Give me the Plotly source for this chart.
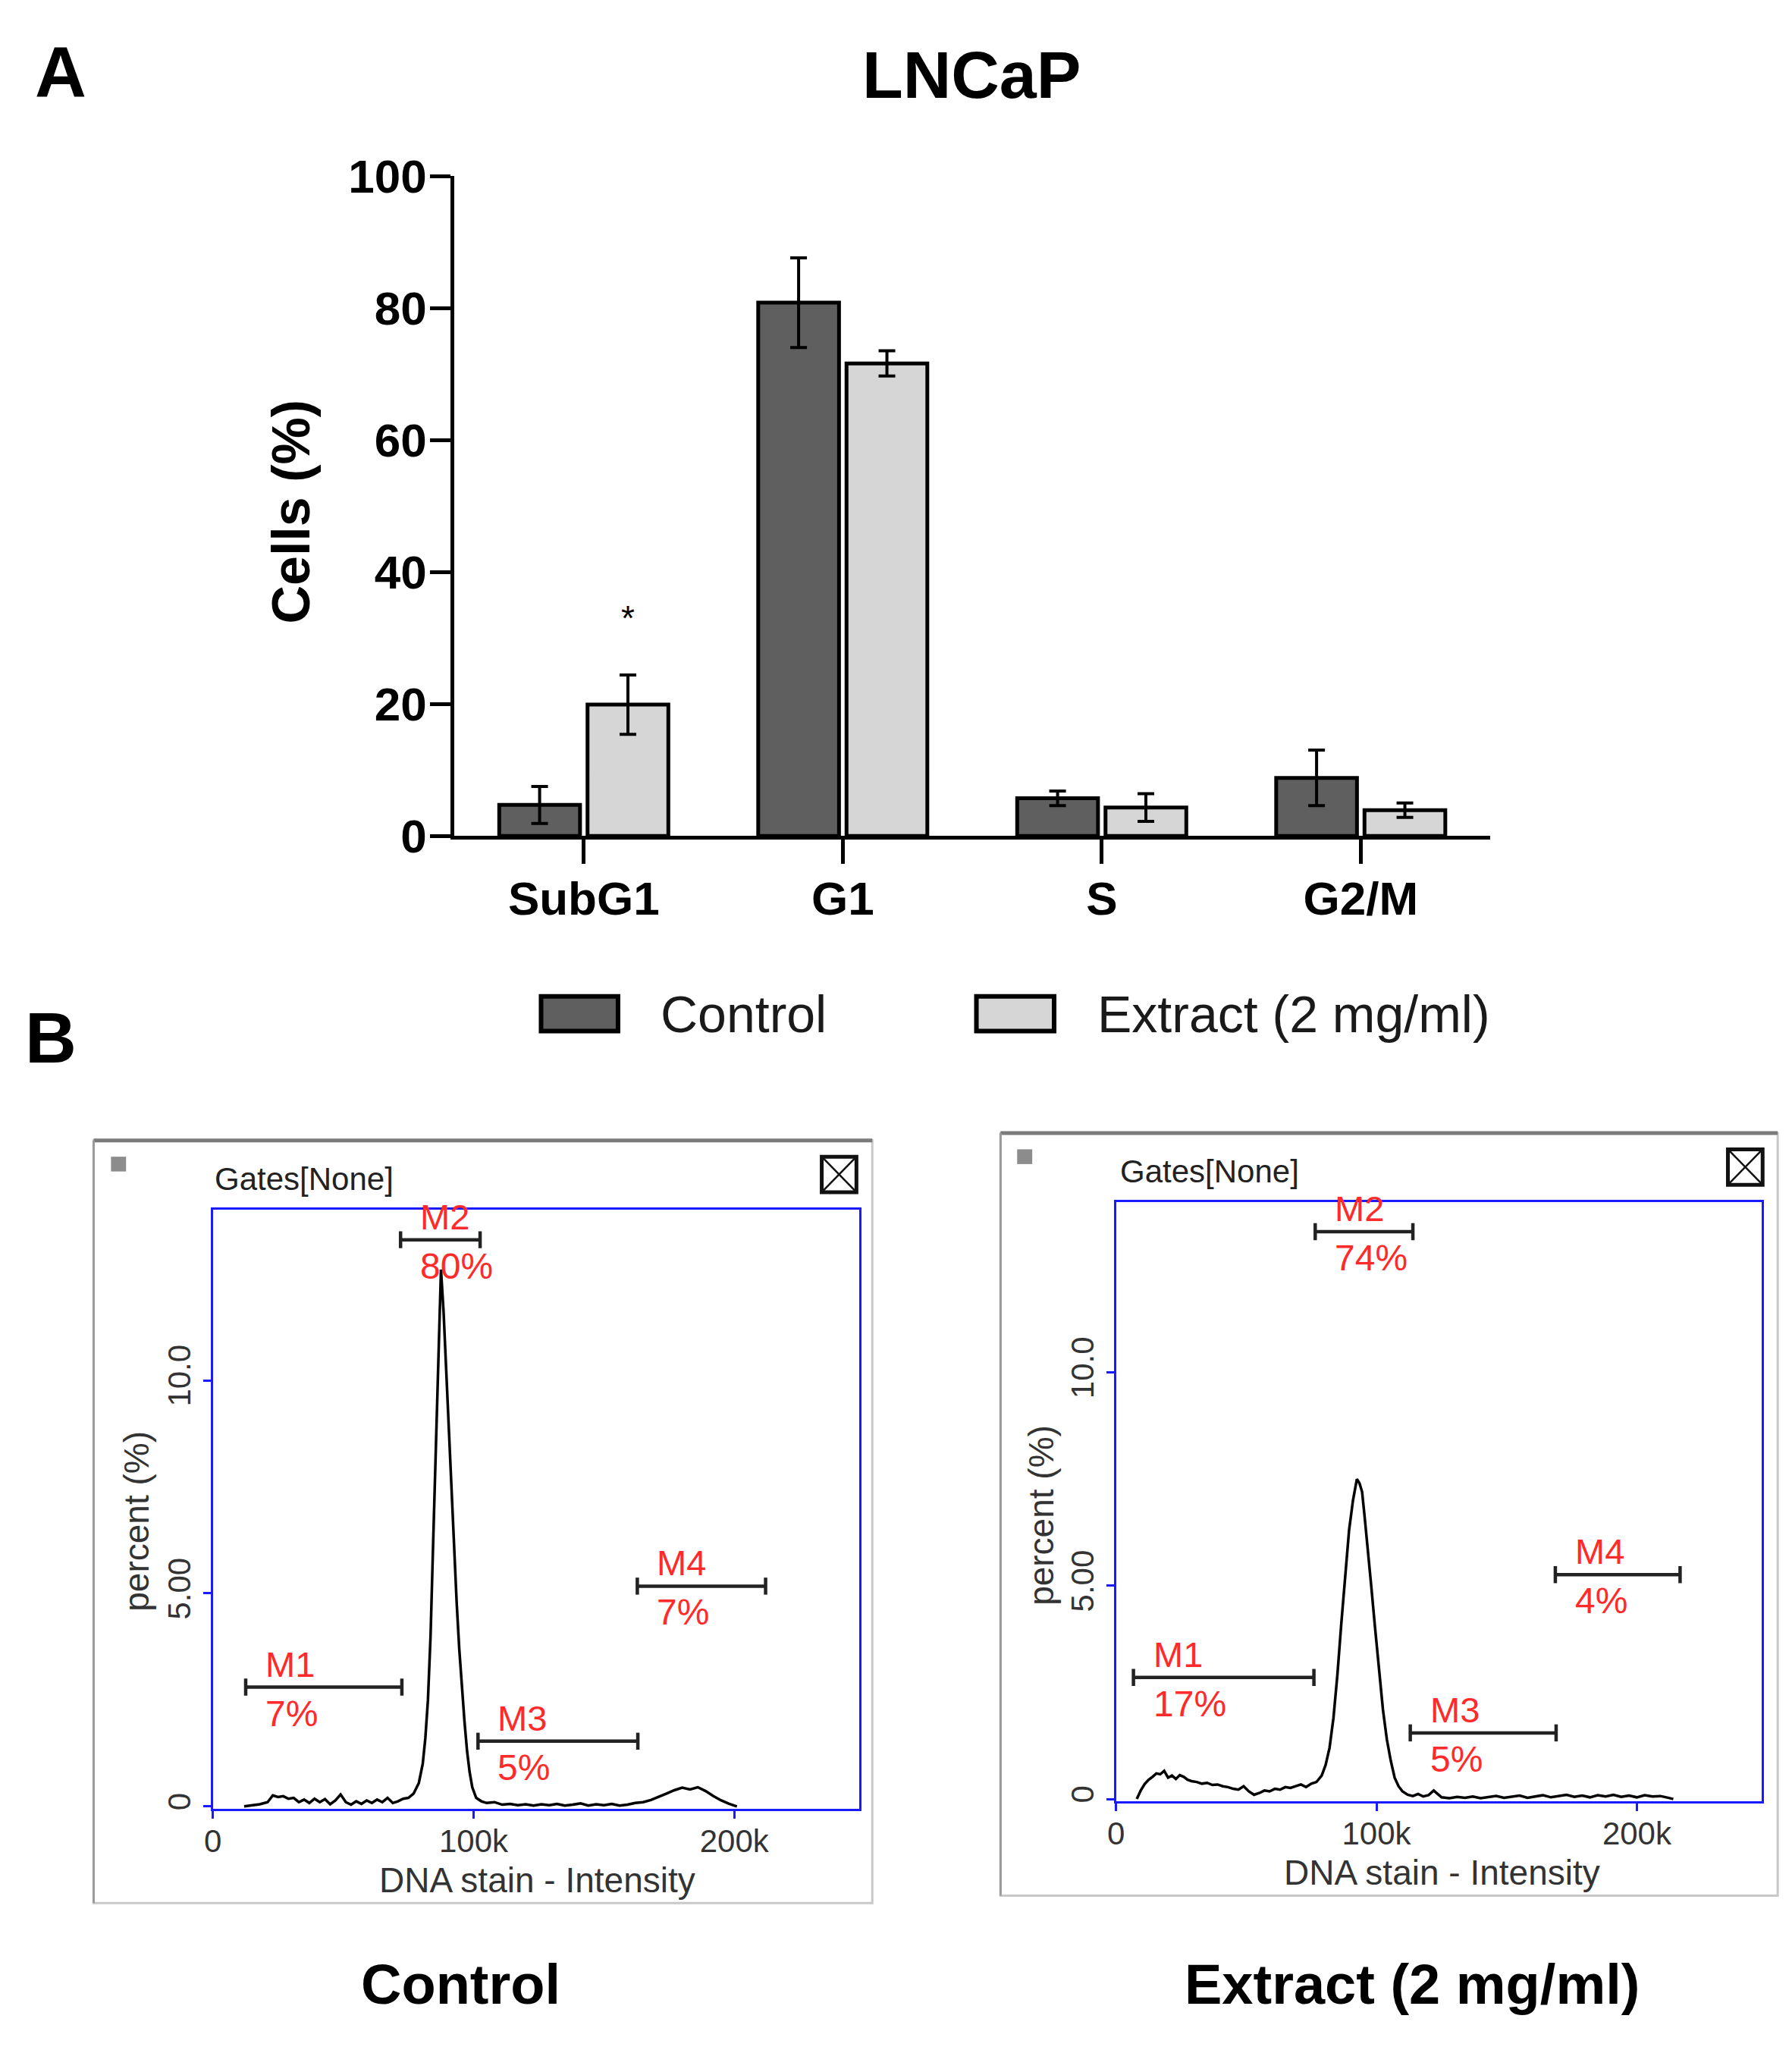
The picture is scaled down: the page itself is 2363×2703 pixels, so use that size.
#%% libs
import plotly.graph_objects as go

W, H = 2363, 2703

# ---- panel A data ----
phases = ['SubG1', 'G1', 'S', 'G2/M']
control_mean = [4.7, 80.8, 5.7, 8.8]
control_err = [2.8, 6.8, 1.1, 4.2]
extract_mean = [19.9, 71.6, 4.3, 3.9]
extract_err = [4.5, 1.9, 2.1, 1.1]
yticks_a = [0, 20, 40, 60, 80, 100]

# ---- panel B data (intensity in k, percent) ----
ctrl_x = [12, 15, 18, 21, 23, 25, 27, 29, 31, 33,
          35, 37, 39, 41, 43, 45, 47, 49, 51, 53,
          55, 57, 59, 61, 63, 65, 67, 69, 71, 73,
          75, 77, 79, 80.5, 81.5, 82.5, 83.5, 84.5, 85.5, 86.5,
          87.5, 88.5, 89.5, 90.5, 91.5, 92.5, 93.5, 94.5, 95.5, 96.5,
          97.5, 98.5, 99.5, 101, 103, 105, 108, 111, 114, 117,
          120, 123, 126, 129, 132, 135, 138, 141, 144, 147,
          150, 153, 156, 159, 162, 165, 168, 171, 174, 177,
          180, 183, 186, 189, 192, 195, 198, 201]
ctrl_y = [0, 0.02, 0.05, 0.1, 0.26, 0.22, 0.24, 0.18, 0.2, 0.1,
          0.16, 0.08, 0.18, 0.1, 0.17, 0.05, 0.14, 0.28, 0.1, 0.04,
          0.12, 0.06, 0.14, 0.08, 0.16, 0.1, 0.2, 0.08, 0.12, 0.18,
          0.2, 0.3, 0.55, 1.0, 1.6, 2.5, 4.0, 6.2, 8.4, 10.6,
          12.6, 11.6, 10.2, 8.8, 7.3, 6.0, 4.8, 3.7, 2.8, 2.0,
          1.3, 0.8, 0.45, 0.2, 0.12, 0.08, 0.1, 0.04, 0.06, 0.03,
          0.05, 0.02, 0.05, 0.03, 0.06, 0.02, 0.04, 0.07, 0.02, 0.05,
          0.03, 0.06, 0.02, 0.04, 0.08, 0.1, 0.15, 0.22, 0.3, 0.38,
          0.44, 0.4, 0.45, 0.36, 0.24, 0.14, 0.06, 0]

ext_x = [8, 9.5, 11, 12.5, 14, 15.5, 17, 18.5, 20, 21.5,
         23, 24.5, 26, 27.5, 29, 31, 33, 35, 37, 39,
         41, 43, 45, 47, 49, 51, 53, 55, 57, 59,
         61, 63, 65, 67, 69, 71, 73, 75, 77, 79,
         80.5, 82, 83.5, 85, 86.5, 88, 89.5, 91, 92.5, 93.5,
         94.5, 95.5, 96.5, 98, 99.5, 101, 102.5, 104, 105.5, 107,
         108.5, 110, 112, 114, 116, 118, 120, 122, 125, 128,
         131, 134, 137, 140, 143, 146, 149, 152, 155, 158,
         161, 164, 167, 170, 173, 176, 179, 182, 185, 188,
         191, 194, 197, 200, 203, 206, 209, 212, 214]
ext_y = [0, 0.2, 0.35, 0.45, 0.52, 0.6, 0.58, 0.66, 0.5, 0.55,
         0.47, 0.56, 0.52, 0.45, 0.42, 0.4, 0.36, 0.38, 0.33, 0.34,
         0.3, 0.28, 0.24, 0.22, 0.3, 0.18, 0.1, 0.14, 0.2, 0.18,
         0.24, 0.22, 0.28, 0.26, 0.3, 0.34, 0.28, 0.36, 0.4, 0.55,
         0.8, 1.2, 1.9, 2.9, 4.1, 5.3, 6.3, 7.0, 7.5, 7.4,
         7.2, 6.6, 6.0, 5.0, 4.0, 3.0, 2.1, 1.4, 0.9, 0.5,
         0.3, 0.18, 0.1, 0.07, 0.12, 0.06, 0.09, 0.2, 0.04, 0.02,
         0.05, 0.03, 0.06, 0.02, 0.04, 0.07, 0.03, 0.05, 0.08, 0.03,
         0.06, 0.09, 0.04, 0.07, 0.1, 0.05, 0.08, 0.04, 0.09, 0.06,
         0.1, 0.05, 0.08, 0.04, 0.09, 0.06, 0.07, 0.03, 0]

gate_names = ['M1', 'M2', 'M3', 'M4']
ctrl_gate_start = [12.6, 72, 101.7, 162.8]
ctrl_gate_end = [72.5, 102.5, 163, 212]
ctrl_gate_y = [2.8, 13.3, 1.53, 5.17]
ctrl_gate_pct = ['7%', '80%', '5%', '7%']
ext_gate_start = [6.7, 76.5, 113, 168.7]
ext_gate_end = [76, 114, 169, 216.6]
ext_gate_y = [2.85, 13.3, 1.55, 5.26]
ext_gate_pct = ['17%', '74%', '5%', '4%']

FONT = 'Liberation Sans, Arial, sans-serif'
DARK = '#5f5f5f'
LIGHT = '#d6d6d6'
RED = '#ff2a2a'


def px(x):
    return x / W


def py(y):
    return 1 - y / H


#%% figure
fig = go.Figure()

fig.add_trace(go.Bar(
    x=phases, y=control_mean, name='Control',
    marker=dict(color=DARK, line=dict(color='black', width=5)),
    error_y=dict(type='data', array=control_err, color='black', thickness=4, width=11),
    xaxis='x', yaxis='y'))
fig.add_trace(go.Bar(
    x=phases, y=extract_mean, name='Extract (2 mg/ml)',
    marker=dict(color=LIGHT, line=dict(color='black', width=5)),
    error_y=dict(type='data', array=extract_err, color='black', thickness=4, width=11),
    xaxis='x', yaxis='y'))


def gate_trace(starts, ends, ys, xa, ya):
    gx, gy = [], []
    for s, e, y in zip(starts, ends, ys):
        gx += [s, e, None, s, s, None, e, e, None]
        gy += [y, y, None, y - 0.2, y + 0.2, None, y - 0.2, y + 0.2, None]
    return go.Scatter(x=gx, y=gy, mode='lines', line=dict(color='#222222', width=4.5),
                      xaxis=xa, yaxis=ya, showlegend=False, hoverinfo='skip')


fig.add_trace(go.Scatter(x=ctrl_x, y=ctrl_y, mode='lines', line=dict(color='black', width=3.5),
                         xaxis='x2', yaxis='y2', showlegend=False))
fig.add_trace(gate_trace(ctrl_gate_start, ctrl_gate_end, ctrl_gate_y, 'x2', 'y2'))
fig.add_trace(go.Scatter(x=ext_x, y=ext_y, mode='lines', line=dict(color='black', width=3.5),
                         xaxis='x3', yaxis='y3', showlegend=False))
fig.add_trace(gate_trace(ext_gate_start, ext_gate_end, ext_gate_y, 'x3', 'y3'))

annotations = []
shapes = []


def txt(x, y, s, size, bold=False, color='black', angle=0, xanchor='center', xref='paper', yref='paper', yanchor='middle', yshift=0):
    annotations.append(dict(x=x, y=y, xref=xref, yref=yref, text=s, showarrow=False,
                            textangle=angle, xanchor=xanchor, yanchor=yanchor, yshift=yshift,
                            font=dict(family=FONT, size=size, color=color,
                                      weight='bold' if bold else 'normal')))


# panel letters and titles
txt(px(60), py(55), 'A', 94, True)
txt(px(47), py(1361), 'B', 94, True)
txt(px(1268), py(58), 'LNCaP', 88, True)
txt(px(366), py(649), 'Cells (%)', 70, True, angle=-90)
txt(0.17, 33, '*', 46, xref='x', yref='y')

# legend
shapes.append(dict(type='rect', xref='paper', yref='paper', x0=px(697), x1=px(799), y0=py(1305), y1=py(1352),
                   fillcolor=DARK, line=dict(color='black', width=6)))
shapes.append(dict(type='rect', xref='paper', yref='paper', x0=px(1274), x1=px(1377), y0=py(1305), y1=py(1352),
                   fillcolor=LIGHT, line=dict(color='black', width=6)))
txt(px(853), py(1329), 'Control', 68, color='#1a1a1a', xanchor='left')
txt(px(1432), py(1329), 'Extract (2 mg/ml)', 68, color='#1a1a1a', xanchor='left')

# flow panels: frames, headers, labels
panels = [
    dict(frame=(104, 1136, 1500, 2532), sq=(137, 1532), box=(1092, 1546), gates=(262, 1552),
         xt=(692, 2501), yt=(160, 2015), label=(590, 2642), name='Control', xa='x2', ya='y2',
         starts=ctrl_gate_start, ends=ctrl_gate_end, ys=ctrl_gate_y, pct=ctrl_gate_pct),
    dict(frame=(1306, 2336, 1490, 2522), sq=(1338, 1522), box=(2293, 1536), gates=(1462, 1542),
         xt=(1891, 2491), yt=(1360, 2007), label=(1851, 2642), name='Extract (2 mg/ml)', xa='x3', ya='y3',
         starts=ext_gate_start, ends=ext_gate_end, ys=ext_gate_y, pct=ext_gate_pct),
]
for p in panels:
    x0, x1, y0, y1 = p['frame']
    shapes.append(dict(type='rect', xref='paper', yref='paper', x0=px(x0), x1=px(x1), y0=py(y0), y1=py(y1),
                       line=dict(color='#c8c8c8', width=3)))
    shapes.append(dict(type='line', xref='paper', yref='paper', x0=px(x0), x1=px(x1), y0=py(y0), y1=py(y0),
                       line=dict(color='#7a7a7a', width=5)))
    shapes.append(dict(type='line', xref='paper', yref='paper', x0=px(x0), x1=px(x0), y0=py(y0), y1=py(y1),
                       line=dict(color='#9a9a9a', width=3)))
    sx, sy = p['sq']
    shapes.append(dict(type='rect', xref='paper', yref='paper', x0=px(sx - 10), x1=px(sx + 10),
                       y0=py(sy - 10), y1=py(sy + 10), fillcolor='#8c8c8c', line=dict(width=0)))
    bx, by = p['box']
    shapes.append(dict(type='rect', xref='paper', yref='paper', x0=px(bx - 23), x1=px(bx + 23),
                       y0=py(by - 24), y1=py(by + 24), line=dict(color='#111111', width=5)))
    shapes.append(dict(type='line', xref='paper', yref='paper', x0=px(bx - 21), x1=px(bx + 21),
                       y0=py(by - 22), y1=py(by + 22), line=dict(color='#111111', width=2.5)))
    shapes.append(dict(type='line', xref='paper', yref='paper', x0=px(bx - 21), x1=px(bx + 21),
                       y0=py(by + 22), y1=py(by - 22), line=dict(color='#111111', width=2.5)))
    gx, gy = p['gates']
    txt(px(gx), py(gy), 'Gates[None]', 42, color='#222222', xanchor='left')
    txt(px(p['xt'][0]), py(p['xt'][1]), 'DNA stain - Intensity', 46, color='#333333')
    txt(px(p['yt'][0]), py(p['yt'][1]), 'percent (%)', 46, color='#333333', angle=-90)
    txt(px(p['label'][0]), py(p['label'][1]), p['name'], 74, True)
    for name, s, y, pc in zip(gate_names, p['starts'], p['ys'], p['pct']):
        txt(s + 7, y, name, 47, color=RED, xanchor='left', xref=p['xa'], yref=p['ya'],
            yanchor='bottom', yshift=2)
        txt(s + 7, y, pc, 48, color=RED, xanchor='left', xref=p['xa'], yref=p['ya'],
            yanchor='top', yshift=-6)

flow_x = dict(range=[0, 248], tickvals=[0, 100, 200], ticktext=['0', '100k', '200k'],
              showline=True, mirror=True, linecolor='#1a1aff', linewidth=3,
              ticks='outside', ticklen=10, tickcolor='#1a1aff', tickwidth=3,
              showgrid=False, zeroline=False, ticklabelstandoff=-6,
              tickfont=dict(family=FONT, size=42, color='#333333'))
flow_y = dict(range=[-0.05, 14], tickvals=[0, 5, 10], ticktext=['0', '5.00', '10.0'],
              showline=True, mirror=True, linecolor='#1a1aff', linewidth=3,
              ticks='outside', ticklen=10, tickcolor='#1a1aff', tickwidth=3, tickangle=-90,
              showgrid=False, zeroline=False, ticklabelstandoff=0,
              tickfont=dict(family=FONT, size=42, color='#333333'))

fig.update_layout(
    width=W, height=H,
    margin=dict(l=0, r=0, t=0, b=0),
    paper_bgcolor='white', plot_bgcolor='white',
    showlegend=False,
    barmode='group', bargap=0.318, bargroupgap=0.085,
    xaxis=dict(domain=[px(582), px(1955)], anchor='y', range=[-0.5, 3.5],
               showline=True, linecolor='black', linewidth=5,
               ticks='outside', ticklen=32, tickwidth=5, tickcolor='black',
               ticklabelstandoff=-8, showgrid=False, zeroline=False,
               tickfont=dict(family=FONT, size=62, color='black', weight='bold')),
    yaxis=dict(domain=[py(1088), py(195)], anchor='x', range=[0, 100], tickvals=yticks_a,
               showline=True, linecolor='black', linewidth=5,
               ticks='outside', ticklen=27, tickwidth=5, tickcolor='black',
               ticklabelstandoff=-8, showgrid=False, zeroline=False,
               tickfont=dict(family=FONT, size=62, color='black', weight='bold')),
    xaxis2=dict(domain=[px(262), px(1119)], anchor='y2', **flow_x),
    yaxis2=dict(domain=[py(2404), py(1594)], anchor='x2', **flow_y),
    xaxis3=dict(domain=[px(1459), px(2315)], anchor='y3', **flow_x),
    yaxis3=dict(domain=[py(2394), py(1583)], anchor='x3', **flow_y),
    annotations=annotations,
    shapes=shapes,
)

fig.write_html("out.html")
